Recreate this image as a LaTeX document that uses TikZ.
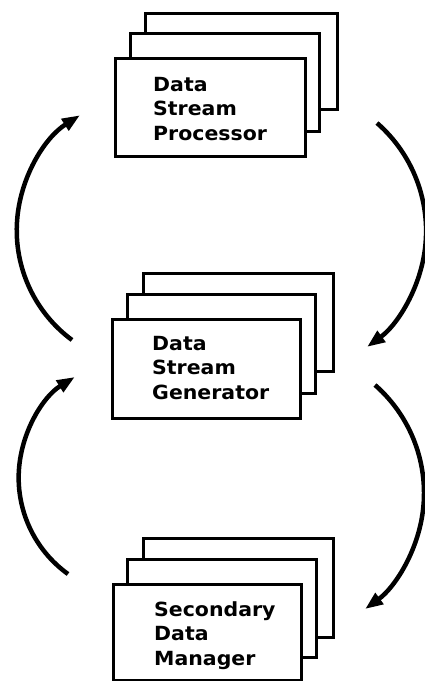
\documentclass[tikz,border=0pt]{standalone}
\usepackage{fontspec}
\newfontfamily\boxfont[FakeStretch=1.05]{DejaVu Sans}
\usetikzlibrary{arrows.meta}
\tikzset{
  sheet/.style={draw=black, fill=white, line width=3pt, line join=miter},
  front/.style={sheet, anchor=north west, inner sep=0pt},
  label/.style={anchor=north west, inner sep=0pt, align=left,
    font=\boxfont\bfseries\fontsize{19.5}{24.5}\selectfont},
  flow/.style={line width=4.5pt, -{Triangle[length=18pt,width=13pt]}}
}
\begin{document}
\begin{tikzpicture}[x=1pt,y=-1pt]
\useasboundingbox (0,0) rectangle (425,681);
% top group
\draw[sheet] (145,13) rectangle (337,109);
\draw[sheet] (130,33) rectangle (319,131);
\node[front, minimum width=190pt, minimum height=98pt] (dsp) at (114,57) {};
\node[label] (dsptxt) at (153,77) {Data\\Stream\\Processor};
% middle group
\draw[sheet] (143,273) rectangle (333,371);
\draw[sheet] (127,294) rectangle (315,393);
\node[front, minimum width=188pt, minimum height=99pt] (dsg) at (111,318) {};
\node[label] (dsgtxt) at (152,336) {Data\\Stream\\Generator};
% bottom group
\draw[sheet] (143,538) rectangle (333,637);
\draw[sheet] (127,559) rectangle (316,657);
\node[front, minimum width=188pt, minimum height=96pt] (sdm) at (112,583) {};
\node[label] (sdmtxt) at (154,601) {Secondary\\Data\\Manager};
% arrow start points
\coordinate (a1s) at (72,340);
\coordinate (a2s) at (68,574);
\coordinate (a3s) at (377,123);
\coordinate (a4s) at (375,385);
% arrows (circular arcs)
\draw[flow] (a1s) arc[start angle=126.5, end angle=237.6, radius=136.4];
\draw[flow] (a2s) arc[start angle=125.7, end angle=238.3, radius=118.5];
\draw[flow] (a3s) arc[start angle=-48.9, end angle=54.0, radius=143.3];
\draw[flow] (a4s) arc[start angle=-48.8, end angle=53.9, radius=143.6];
\end{tikzpicture}
\end{document}
